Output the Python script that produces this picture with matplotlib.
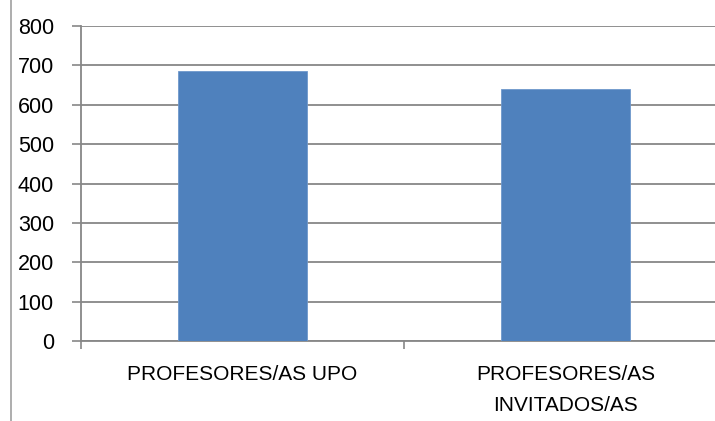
import matplotlib.pyplot as plt
from matplotlib.patches import Rectangle

# data
categories = ['PROFESORES/AS UPO', 'PROFESORES/AS\nINVITADOS/AS']
values = [685, 639]
y_ticks = [0, 100, 200, 300, 400, 500, 600, 700, 800]

plt.rcParams['font.family'] = ['Liberation Sans', 'DejaVu Sans']

fig = plt.figure(figsize=(7.15, 4.21), dpi=100)
# plot area runs past the right edge, as in the cropped original
ax = fig.add_axes([81 / 715, 80 / 421, 646 / 715, 315 / 421])

# outer chart frame
frame = Rectangle((11 / 715, -0.2), 1.2, 1.2 + 1 - 9 / 421, transform=fig.transFigure,
                  fill=False, edgecolor='#a0a0a0', linewidth=1.2, clip_on=False)
fig.patches.append(frame)

x = range(len(categories))
ax.bar(x, values, width=0.4, color='#4F81BD', edgecolor='#6f98cc', linewidth=0.6, zorder=3)

ax.set_xlim(-0.5, 1.5)
ax.set_ylim(0, 800)
ax.set_yticks(y_ticks)
ax.yaxis.grid(True, color='#878787', linewidth=1.3, zorder=0)

ax.set_xticks(list(x))
ax.set_xticklabels(categories, fontsize=15, linespacing=1.8)
ax.set_xticks([-0.5, 0.5, 1.5], minor=True)
ax.tick_params(axis='x', which='major', length=0, pad=17)
ax.tick_params(axis='x', which='minor', length=6, color='#878787', width=1.2)
ax.tick_params(axis='y', length=6.5, color='#878787', width=1.2, pad=13, labelsize=15.5)

for side in ['top', 'right']:
    ax.spines[side].set_visible(False)
for side in ['left', 'bottom']:
    ax.spines[side].set_color('#878787')
    ax.spines[side].set_linewidth(1.3)

fig.savefig('out.png', dpi=100)
